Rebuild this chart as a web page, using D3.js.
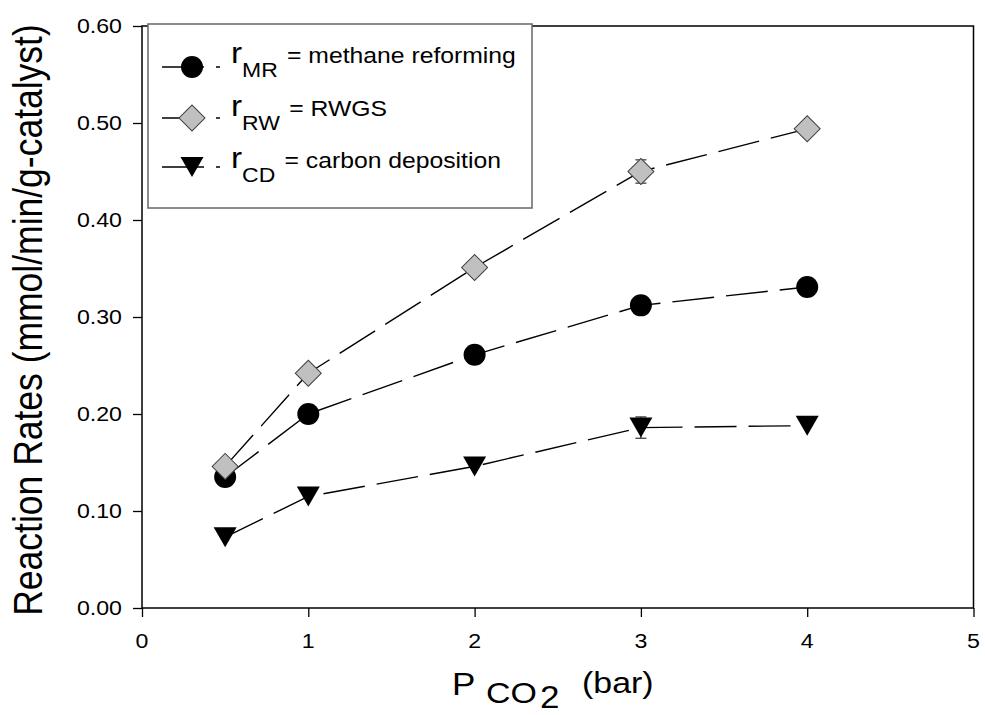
<!DOCTYPE html>
<html>
<head>
<meta charset="utf-8">
<script src="https://cdn.jsdelivr.net/npm/d3@7"></script>
<style>
  body { margin: 0; background: #fff; }
  svg { display: block; font-family: "Liberation Sans", Arial, sans-serif; }
</style>
</head>
<body>
<div class="container"></div>
<script>
// data
const pressure = [0.5, 1, 2, 3, 4]
const rateMR = [0.135, 0.200, 0.261, 0.312, 0.331]
const rateRW = [0.146, 0.242, 0.351, 0.450, 0.494]
const rateCD = [0.073, 0.115, 0.146, 0.186, 0.188]
const errMR = [0, 0, 0, 0, 0]
const errRW = [0, 0, 0, 0.012, 0]
const errCD = [0, 0, 0, 0.011, 0]
const xTicks = [0, 1, 2, 3, 4, 5]
const yTicks = [0, 0.1, 0.2, 0.3, 0.4, 0.5, 0.6]
const seriesNames = ["MR", "RW", "CD"]
const seriesLabels = ["= methane reforming", "= RWGS", "= carbon deposition"]

const w = 985
const h = 715
const stretch = 1.13   // text in the picture is a bit wider than Arial

const xScale = d3.scaleLinear().domain([0, 5]).range([142, 973.5])
const yScale = d3.scaleLinear().domain([0, 0.6]).range([608, 26])

const svg = d3.select(".container")
  .append("svg")
  .attr("width", w)
  .attr("height", h)

// marker shapes
const circlePath = d3.symbol(d3.symbolCircle, Math.PI * 11 * 11)()
const diamondPath = d3.symbol(d3.symbolSquare, 338)()
const trianglePath = "M-11.5,-10L11.5,-10L0,10Z"

const series = [
  { name: "MR", values: rateMR, err: errMR, shape: circlePath, rot: 0, fill: "#000", stroke: "none" },
  { name: "RW", values: rateRW, err: errRW, shape: diamondPath, rot: 45, fill: "#c0c0c0", stroke: "#404040" },
  { name: "CD", values: rateCD, err: errCD, shape: trianglePath, rot: 0, fill: "#000", stroke: "none" }
]

// axes (tick marks only, labels drawn below)
const xAxis = d3.axisBottom(xScale).tickValues(xTicks).tickFormat("")
  .tickSize(9).tickSizeOuter(0)
const yAxis = d3.axisLeft(yScale).tickValues(yTicks).tickFormat("")
  .tickSize(9).tickSizeOuter(0)

const gx = svg.append("g")
  .attr("transform", "translate(0," + yScale(0) + ")")
  .call(xAxis)
const gy = svg.append("g")
  .attr("transform", "translate(" + xScale(0) + ",0)")
  .call(yAxis)

;[gx, gy].forEach(g => {
  g.select(".domain").remove()
  g.selectAll(".tick line").attr("stroke", "#000").attr("stroke-width", 1.3)
})

const tickFont = 20.5
svg.append("g").selectAll("text")
  .data(yTicks)
  .enter()
  .append("text")
  .attr("transform", d => "translate(122," + (yScale(d) + 7) + ") scale(" + stretch + ",1)")
  .style("text-anchor", "end")
  .style("font-size", tickFont + "px")
  .text(d3.format(".2f"))

svg.append("g").selectAll("text")
  .data(xTicks)
  .enter()
  .append("text")
  .attr("transform", d => "translate(" + xScale(d) + ",648) scale(" + stretch + ",1)")
  .style("text-anchor", "middle")
  .style("font-size", tickFont + "px")
  .text(d3.format("d"))

// frame
svg.append("rect")
  .attr("x", xScale(0))
  .attr("y", yScale(0.6))
  .attr("width", xScale(5) - xScale(0))
  .attr("height", yScale(0) - yScale(0.6))
  .attr("fill", "none")
  .attr("stroke", "#000")
  .attr("stroke-width", 1.5)

// lines, error bars, markers
const line = d3.line()
  .x((d, i) => xScale(pressure[i]))
  .y(d => yScale(d))

series.forEach(s => {
  svg.append("path")
    .attr("d", line(s.values))
    .attr("fill", "none")
    .attr("stroke", "#000")
    .attr("stroke-width", 1.4)
    .attr("stroke-dasharray", "42,12")

  s.values.forEach((v, i) => {
    if (s.err[i] > 0) {
      const cx = xScale(pressure[i])
      const g = svg.append("g").attr("stroke", "#333").attr("stroke-width", 1.2)
      g.append("line").attr("x1", cx).attr("x2", cx)
        .attr("y1", yScale(v - s.err[i])).attr("y2", yScale(v + s.err[i]))
      ;[v - s.err[i], v + s.err[i]].forEach(e => {
        g.append("line").attr("x1", cx - 5.5).attr("x2", cx + 5.5)
          .attr("y1", yScale(e)).attr("y2", yScale(e))
      })
    }
  })

  svg.selectAll(null)
    .data(s.values)
    .enter()
    .append("path")
    .attr("d", s.shape)
    .attr("transform", (d, i) => "translate(" + xScale(pressure[i]) + "," + yScale(d) + ") rotate(" + s.rot + ")")
    .attr("fill", s.fill)
    .attr("stroke", s.stroke)
    .attr("stroke-width", 1)
})

// legend
const legend = svg.append("g")
legend.append("rect")
  .attr("x", 148).attr("y", 24)
  .attr("width", 384).attr("height", 184)
  .attr("fill", "#fff")
  .attr("stroke", "#666")
  .attr("stroke-width", 1.5)

const rowMarkerY = [67, 118, 167]
const rowTextY = [63, 116, 168]

series.forEach((s, i) => {
  legend.append("line")
    .attr("x1", 162).attr("x2", 220)
    .attr("y1", rowMarkerY[i]).attr("y2", rowMarkerY[i])
    .attr("stroke", "#000")
    .attr("stroke-width", 1.4)
    .attr("stroke-dasharray", "42,12")
  legend.append("path")
    .attr("d", s.shape)
    .attr("transform", "translate(192," + rowMarkerY[i] + ") rotate(" + s.rot + ")")
    .attr("fill", s.fill)
    .attr("stroke", s.stroke)
    .attr("stroke-width", 1)

  const t = legend.append("g")
    .attr("transform", "translate(231," + rowTextY[i] + ") scale(1.15,1)")
    .append("text")
    .attr("fill", "#000")
  t.append("tspan").style("font-size", "29px").text("r")
  t.append("tspan").style("font-size", "20px").attr("dy", 14).text(seriesNames[i])
  t.append("tspan").style("font-size", "21.5px").attr("dy", -14).attr("dx", 8).text(seriesLabels[i])
})

// axis titles
svg.append("text")
  .attr("transform", "translate(42," + 320 + ") rotate(-90) scale(1," + stretch + ")")
  .style("text-anchor", "middle")
  .style("font-size", "35.5px")
  .text("Reaction Rates (mmol/min/g-catalyst)")

const xTitle = [
  { text: "P", x: 452, y: 695, size: 31 },
  { text: "CO", x: 486, y: 703, size: 30 },
  { text: "2", x: 540, y: 708, size: 31 },
  { text: "(bar)", x: 582, y: 693, size: 30 }
]
svg.append("g").selectAll("text")
  .data(xTitle)
  .enter()
  .append("text")
  .attr("transform", d => "translate(" + d.x + "," + d.y + ") scale(" + stretch + ",1)")
  .style("font-size", d => d.size + "px")
  .text(d => d.text)
</script>
</body>
</html>
